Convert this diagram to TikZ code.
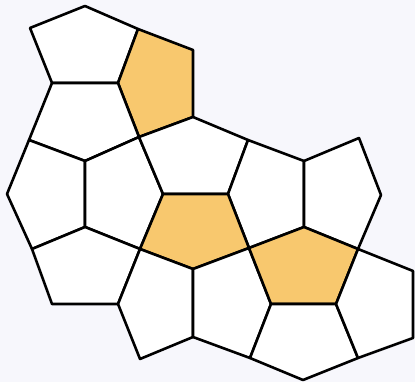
\documentclass[tikz,border=0pt]{standalone}
\definecolor{bgcol}{RGB}{247,247,252}
\definecolor{tile}{RGB}{248,200,110}
\tikzset{
  face/.style={draw=black, line width=2.6pt, line join=round, fill=white},
  hot/.style={face, fill=tile}
}
\begin{document}
\begin{tikzpicture}[x=1pt,y=-1pt]
\fill[bgcol] (0,0) rectangle (415,382);
\useasboundingbox (0,0) rectangle (415,382);
\coordinate (A) at (85,6);
\coordinate (B) at (30,28);
\coordinate (C) at (138,29);
\coordinate (D) at (52,83);
\coordinate (E) at (118,83);
\coordinate (F) at (193,50);
\coordinate (G) at (193,117);
\coordinate (H) at (139,137);
\coordinate (I) at (29,140);
\coordinate (J) at (85,161);
\coordinate (K) at (7,194);
\coordinate (L) at (163,194);
\coordinate (M) at (248,140);
\coordinate (N) at (304,161);
\coordinate (O) at (359,138);
\coordinate (P) at (381,195);
\coordinate (Q) at (228,194);
\coordinate (R) at (85,227);
\coordinate (S) at (32,249);
\coordinate (T) at (140,249);
\coordinate (U) at (249,248);
\coordinate (V) at (193,269);
\coordinate (W) at (52,304);
\coordinate (X) at (118,304);
\coordinate (Y) at (140,359);
\coordinate (Z) at (193,337);
\coordinate (a) at (304,227);
\coordinate (b) at (358,249);
\coordinate (c) at (271,304);
\coordinate (d) at (336,304);
\coordinate (e) at (250,358);
\coordinate (f) at (303,380);
\coordinate (g) at (358,358);
\coordinate (h) at (413,271);
\coordinate (i) at (413,338);
\draw[face] (A) -- (B) -- (D) -- (E) -- (C) -- cycle;
\draw[hot]  (C) -- (F) -- (G) -- (H) -- (E) -- cycle;
\draw[face] (D) -- (E) -- (H) -- (J) -- (I) -- cycle;
\draw[face] (I) -- (J) -- (R) -- (S) -- (K) -- cycle;
\draw[face] (J) -- (H) -- (L) -- (T) -- (R) -- cycle;
\draw[face] (H) -- (G) -- (M) -- (Q) -- (L) -- cycle;
\draw[face] (M) -- (N) -- (a) -- (U) -- (Q) -- cycle;
\draw[face] (N) -- (O) -- (P) -- (b) -- (a) -- cycle;
\draw[hot]  (L) -- (Q) -- (U) -- (V) -- (T) -- cycle;
\draw[face] (S) -- (R) -- (T) -- (X) -- (W) -- cycle;
\draw[face] (T) -- (V) -- (Z) -- (Y) -- (X) -- cycle;
\draw[face] (V) -- (U) -- (c) -- (e) -- (Z) -- cycle;
\draw[hot]  (a) -- (b) -- (d) -- (c) -- (U) -- cycle;
\draw[face] (c) -- (d) -- (g) -- (f) -- (e) -- cycle;
\draw[face] (b) -- (h) -- (i) -- (g) -- (d) -- cycle;
\end{tikzpicture}
\end{document}
